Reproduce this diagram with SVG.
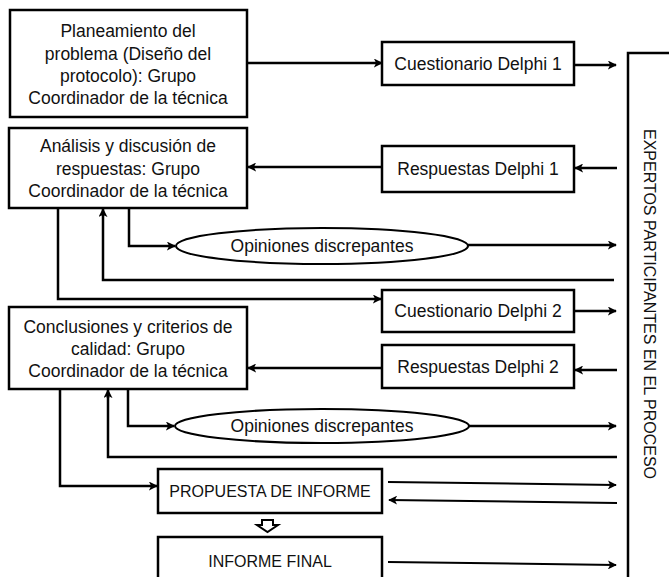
<svg xmlns="http://www.w3.org/2000/svg" width="669" height="577" viewBox="0 0 669 577">
  <defs>
    <style>
      .box { fill: #fff; stroke: #000; stroke-width: 2.5; }
      .oval { fill: #fff; stroke: #000; stroke-width: 2; }
      .t { font-family: "Liberation Sans", Arial, sans-serif; font-size: 17.5px; fill: #111; text-anchor: middle; }
      .caps { font-size: 16px; }
      .link { fill: none; stroke: #000; stroke-width: 2.5; marker-end: url(#head); }
      .plain { fill: none; stroke: #000; stroke-width: 2.5; }
      .thin { stroke-width: 2; }
    </style>
    <marker id="head" viewBox="0 0 10 10" refX="9" refY="5" markerWidth="9" markerHeight="9" markerUnits="userSpaceOnUse" orient="auto">
      <path d="M0,0 L10,5 L0,10 L2.5,5 Z" fill="#000"/>
    </marker>
  </defs>

  <rect width="669" height="577" fill="#fff"/>

  <!-- participants panel on the right -->
  <g id="expertos">
    <rect class="box" x="628" y="53" width="80" height="560"/>
    <text class="t caps" transform="translate(644,304) rotate(90)" x="0" y="0">EXPERTOS PARTICIPANTES EN EL PROCESO</text>
  </g>

  <!-- coordinating group stages -->
  <g id="planeamiento">
    <rect class="box" x="10" y="10" width="237" height="107"/>
    <text class="t" x="128" y="37">Planeamiento del</text>
    <text class="t" x="128" y="60">problema (Diseño del</text>
    <text class="t" x="128" y="82">protocolo): Grupo</text>
    <text class="t" x="128" y="104">Coordinador de la técnica</text>
  </g>

  <g id="analisis">
    <rect class="box" x="9" y="128" width="238" height="80"/>
    <text class="t" x="128" y="152">Análisis y discusión de</text>
    <text class="t" x="128" y="174.5">respuestas: Grupo</text>
    <text class="t" x="128" y="197">Coordinador de la técnica</text>
  </g>

  <g id="conclusiones">
    <rect class="box" x="9" y="307" width="238" height="82"/>
    <text class="t" x="128" y="333">Conclusiones y criterios de</text>
    <text class="t" x="128" y="355">calidad: Grupo</text>
    <text class="t" x="128" y="377">Coordinador de la técnica</text>
  </g>

  <!-- questionnaire rounds -->
  <g id="cuestionario1">
    <rect class="box" x="382" y="42" width="192" height="43"/>
    <text class="t" x="478" y="70">Cuestionario Delphi 1</text>
  </g>
  <g id="respuestas1">
    <rect class="box" x="382" y="146" width="192" height="46"/>
    <text class="t" x="478" y="175">Respuestas Delphi 1</text>
  </g>
  <g id="cuestionario2">
    <rect class="box" x="382" y="290" width="192" height="42"/>
    <text class="t" x="478" y="317">Cuestionario Delphi 2</text>
  </g>
  <g id="respuestas2">
    <rect class="box" x="382" y="345" width="192" height="43"/>
    <text class="t" x="478" y="372.5">Respuestas Delphi 2</text>
  </g>

  <g id="opiniones1">
    <ellipse class="oval" cx="322" cy="246" rx="146" ry="18"/>
    <text class="t" x="322" y="252">Opiniones discrepantes</text>
  </g>
  <g id="opiniones2">
    <ellipse class="oval" cx="322" cy="426" rx="147" ry="17"/>
    <text class="t" x="322" y="432">Opiniones discrepantes</text>
  </g>

  <!-- report stages -->
  <g id="propuesta">
    <rect class="box" x="158" y="469" width="224" height="44"/>
    <text class="t caps" x="270" y="497">PROPUESTA DE INFORME</text>
  </g>
  <g id="informe-final">
    <rect class="box" x="158" y="537" width="224" height="60"/>
    <text class="t caps" x="270" y="567">INFORME FINAL</text>
  </g>

  <!-- connectors -->
  <g id="connectors">
    <path class="link" d="M247,63 H382"/>
    <path class="link" d="M574,65 H616"/>
    <path class="link" d="M617,168 H575"/>
    <path class="link" d="M382,167 H248"/>
    <path class="link" d="M129,208 V246 H175"/>
    <path class="plain" d="M614,280 H103 V214"/>
    <path class="link" d="M103,216 V209"/>
    <path class="link" d="M58,208 V299 H381"/>
    <path class="link" d="M468,245 H616"/>
    <path class="link" d="M574,311 H616"/>
    <path class="link" d="M617,370 H575"/>
    <path class="link" d="M382,368 H248"/>
    <path class="link" d="M128,389 V426 H174"/>
    <path class="plain" d="M617,457 H108 V396"/>
    <path class="link" d="M108,398 V390"/>
    <path class="link" d="M60,389 V486 H157"/>
    <path class="link" d="M469,426 H616"/>
    <path class="link thin" d="M388,482 L616,485"/>
    <path class="link thin" d="M617,503 L389,500"/>
    <path class="link thin" d="M388,562 L616,565"/>
    <!-- hollow block arrow from proposal to final report -->
    <path d="M262,520 H273 V525 H278 L267.5,532 L257,525 H262 Z" fill="#fff" stroke="#000" stroke-width="2" stroke-linejoin="miter"/>
  </g>
</svg>
